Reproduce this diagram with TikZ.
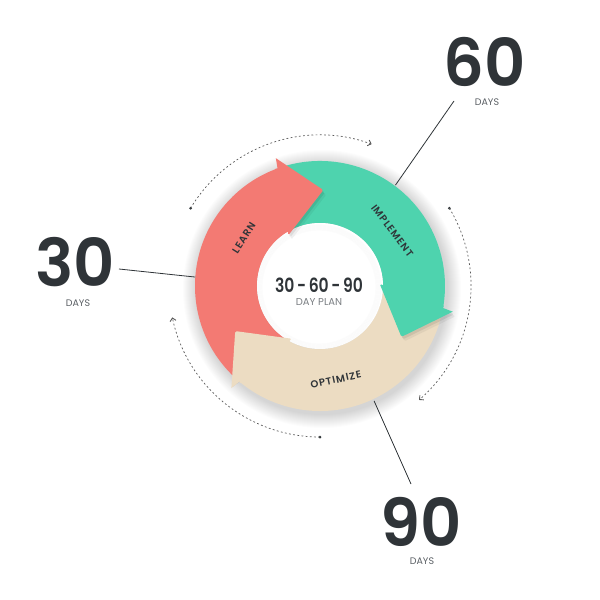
\documentclass[tikz,border=0pt]{standalone}
\usepackage{fontspec}
\setmainfont{Poppins}[BoldFont={Poppins SemiBold}]
\usetikzlibrary{arrows.meta}
\definecolor{cred}{HTML}{F37A73}
\definecolor{cgreen}{HTML}{4ED3AE}
\definecolor{cbeige}{HTML}{ECDCC2}
\definecolor{ink}{HTML}{2F3438}
\definecolor{soft}{HTML}{5A5F64}
\newcommand{\armband}[2]{%
  \begin{scope}[rotate=#1]
    \fill[#2] (231.85:125) arc[start angle=231.85,end angle=111.85,radius=125]
      -- (122.8:63) arc[start angle=122.8,end angle=242.8,radius=63] -- cycle;
  \end{scope}}
\newcommand{\headpath}{(-48.6,126.2) -- (0,96) -- (-33.4,49.6) -- cycle}
\newcommand{\headfill}{(-48.6,126.2) [rounded corners=1.5pt] -- (0,96) -- (-33.4,49.6) [sharp corners]
  -- (-34.1,53.0) -- (-36.5,52.5) -- (-48.9,115.5) -- (-46.5,115.96) -- cycle}
\newcommand{\armhead}[2]{%
  \begin{scope}[rotate=#1]
    \clip (-99.2,382.2) -- (17.2,-206.4) -- (195.1,-148.2) -- (237.1,440.4) -- cycle;
    \begin{scope}[rotate=-#1,shift={(1.5,-2.5)},rotate=#1]
      \fill[black,opacity=0.08,rounded corners=1.5pt] \headpath;
    \end{scope}
    \begin{scope}[rotate=-#1,shift={(3,-4.5)},rotate=#1]
      \fill[black,opacity=0.05,rounded corners=1.5pt] \headpath;
    \end{scope}
  \end{scope}
  \begin{scope}[rotate=#1]
    \fill[#2] \headfill;
  \end{scope}}
\begin{document}
\begin{tikzpicture}[x=1pt,y=1pt,
  lbl/.style={font=\fontsize{10}{10}\selectfont\bfseries\addfontfeature{LetterSpace=9}, text=ink, inner sep=0},
  big/.style={font=\fontsize{68}{68}\selectfont\bfseries, text=ink, inner sep=0},
  days/.style={font=\fontsize{9.5}{9.5}\selectfont, text=soft, inner sep=0},
  lead/.style={draw=ink, line width=0.8pt},
  cyc/.style={draw=gray!70!black, dash pattern=on 1.8pt off 2.4pt, line width=0.7pt,
    -{Straight Barb[length=3pt,width=6pt,line width=0.9pt]}},
  dot/.style={fill=ink, circle, inner sep=0, minimum size=3pt}
]
\useasboundingbox (-320,-314) rectangle (280,286);
\fill[white] (-320,-314) rectangle (280,286);

% soft halo of the ring
\foreach \r in {126,...,139} { \fill[black,opacity=0.012] (2,-3) circle (\r); }

% bands
\armband{-2}{cred}
\armband{-122}{cgreen}
\armband{118}{cbeige}

% inner hole with faint inner shadow
\fill[white] (0,0) circle (63);
\foreach \r in {57,...,62} { \draw[black,opacity=0.012,line width=1.2pt] (-1,-1) circle (\r); }

% heads
\armhead{-2}{cred}
\armhead{-122}{cgreen}
\armhead{118}{cbeige}

% band labels
\node[lbl, rotate=57.7] (learn) at (147.7:90) {LEARN};
\node[lbl, rotate=-52.6] (impl) at (37.4:91) {IMPLEMENT};
\node[lbl, rotate=12] (opt) at (-80.4:95) {OPTIMIZE};

% centre
\node[font=\fontsize{19.5}{19.5}\selectfont\bfseries, text=ink, inner sep=0] (plan) at (-1,1)
  {\scalebox{0.8}[1]{30\hspace{3.2pt}-\hspace{3.2pt}60\hspace{3.2pt}-\hspace{3.2pt}90}};
\node[font=\fontsize{10}{10}\selectfont, text=soft!80, inner sep=0] (dayplan) at (-1,-16) {DAY PLAN};

% cycle arcs
\node[dot] (d1) at (149:151) {};
\node[dot] (d2) at (31:151) {};
\node[dot] (d3) at (-90:151) {};
\draw[cyc] (d1.center) arc[start angle=149,end angle=70,radius=151] coordinate (a1);
\draw[cyc] (d2.center) arc[start angle=31,end angle=-49,radius=151] coordinate (a2);
\draw[cyc] (d3.center) arc[start angle=-90,end angle=-168,radius=151] coordinate (a3);

% milestones
\node[big] (n30) at (-245,24) {\scalebox{0.94}[0.97]{30}};
\node[days] (t30) at (-242,-17) {DAYS};
\node[big] (n60) at (165,224) {\scalebox{0.94}[0.97]{60}};
\node[days] (t60) at (167,184) {DAYS};
\node[big] (n90) at (101,-236) {\scalebox{0.94}[0.97]{90}};
\node[days] (t90) at (102,-275) {DAYS};

\coordinate (s30) at (-201,17);
\coordinate (e30) at (175.9:125);
\coordinate (s60) at (134,185);
\coordinate (e60) at (53.2:126);
\coordinate (s90) at (91,-198);
\coordinate (e90) at (-64.8:127);
\draw[lead] (s30) -- (e30);
\draw[lead] (s60) -- (e60);
\draw[lead] (s90) -- (e90);
\end{tikzpicture}
\end{document}
